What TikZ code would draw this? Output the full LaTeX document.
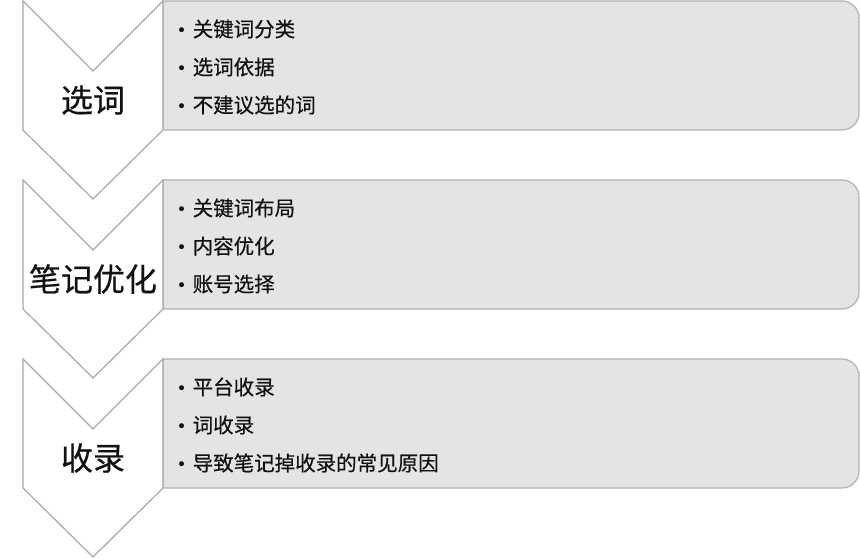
\documentclass[tikz,border=0pt]{standalone}
\usepackage{fontspec}
\setmainfont{Noto Sans CJK SC}[FakeBold=0.5]
\newfontfamily\dotfont{DejaVu Sans}
\definecolor{boxfill}{HTML}{E4E4E4}
\definecolor{boxline}{HTML}{B2B2B2}
\definecolor{chevline}{HTML}{A8A8A8}
\definecolor{txt}{HTML}{111111}
\begin{document}
\begin{tikzpicture}[x=1pt,y=1pt,
  panel/.style={fill=boxfill,draw=boxline,line width=1.2pt},
  chev/.style={fill=white,draw=chevline,line width=1.2pt,line join=miter},
  biglabel/.style={font=\fontsize{32}{32}\selectfont,text=txt,inner sep=0pt},
  item/.style={font=\fontsize{20.5}{20.5}\selectfont,text=txt,anchor=west,inner sep=0pt}]
\useasboundingbox (0,0) rectangle (860,559);
\fill[white] (0,0) rectangle (860,559);
\foreach \T/\lab/\a/\b/\c/\n in {
  558/选词/关键词分类/选词依据/不建议选的词/1,
  379/笔记优化/关键词布局/内容优化/账号选择/2,
  200/收录/平台收录/词收录/导致笔记掉收录的常见原因/3}{
  \draw[panel] (163,\T) -- (842,\T) arc[start angle=90,end angle=0,radius=17]
     -- (859,\T-112) arc[start angle=0,end angle=-90,radius=17] -- (163,\T-129) -- cycle;
  \draw[chev] (23,\T) -- (93,\T-70) -- (163,\T) -- (163,\T-129) -- (93,\T-198) -- (23,\T-129) -- cycle;
  \node[biglabel] (label\n) at (93,\T-99) {\lab};
  \node[item] (itemA\n) at (172,\T-28) {\makebox[19pt][c]{\dotfont\fontsize{17}{17}\selectfont •}\hspace{1.5pt}\a};
  \node[item] (itemB\n) at (172,\T-66) {\makebox[19pt][c]{\dotfont\fontsize{17}{17}\selectfont •}\hspace{1.5pt}\b};
  \node[item] (itemC\n) at (172,\T-104) {\makebox[19pt][c]{\dotfont\fontsize{17}{17}\selectfont •}\hspace{1.5pt}\c};
}
\end{tikzpicture}
\end{document}
